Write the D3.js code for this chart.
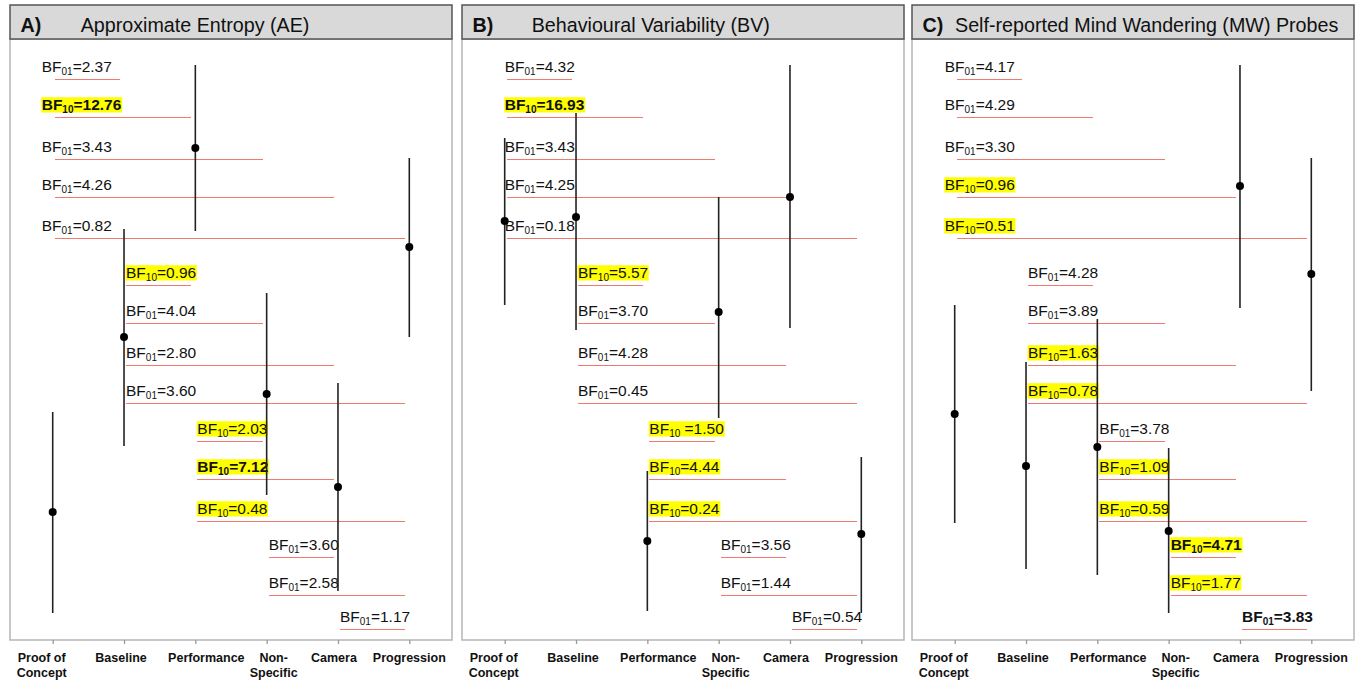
<!DOCTYPE html>
<html>
<head>
<meta charset="utf-8">
<script src="https://cdn.jsdelivr.net/npm/d3@7"></script>
<style>
  body { margin: 0; background: #fff; }
  svg { display: block; font-family: "Liberation Sans", Arial, sans-serif; }
</style>
</head>
<body>
<div id="chart"></div>
<script>
const width = 1365;
const height = 682;

// conditions along the x axis
const categories = ["Proof of Concept", "Baseline", "Performance", "Non-Specific", "Camera", "Progression"];
const categoryLines = [["Proof of", "Concept"], ["Baseline"], ["Performance"], ["Non-", "Specific"], ["Camera"], ["Progression"]];

const panelLetters = ["A)", "B)", "C)"];
const panelTitles = ["Approximate Entropy (AE)", "Behavioural Variability (BV)", "Self-reported Mind Wandering (MW) Probes"];

// estimates (arbitrary hidden y units, no axis shown)
const aeMean = [12.8, 30.3, 49.2, 24.6, 15.3, 39.3];
const aeLow = [2.7, 19.4, 40.9, 14.5, 4.9, 30.3];
const aeHigh = [22.8, 41.1, 57.5, 34.7, 25.7, 48.2];

const bvMean = [41.9, 42.3, 9.9, 32.8, 44.3, 10.6];
const bvLow = [33.5, 31.0, 2.9, 22.2, 31.2, 2.7];
const bvHigh = [50.2, 52.7, 16.9, 44.3, 57.5, 18.3];

const mwMean = [22.6, 17.4, 19.3, 10.9, 45.4, 36.6];
const mwLow = [11.7, 7.1, 6.5, 2.7, 33.2, 24.9];
const mwHigh = [33.5, 27.8, 32.1, 19.2, 57.5, 48.2];

// pairwise comparisons, same order in every panel
const pairFrom = [0, 0, 0, 0, 0, 1, 1, 1, 1, 2, 2, 2, 3, 3, 4];
const pairTo = [1, 2, 3, 4, 5, 2, 3, 4, 5, 3, 4, 5, 4, 5, 5];
const pairLevel = [56.1, 52.3, 48.1, 44.3, 40.2, 35.5, 31.7, 27.5, 23.7, 19.9, 16.1, 11.9, 8.3, 4.5, 1.1];

// Bayes factors: type ("01" or "10"), text after the subscript, bold
const aeType = ["01", "10", "01", "01", "01", "10", "01", "01", "01", "10", "10", "10", "01", "01", "01"];
const aeBF = ["=2.37", "=12.76", "=3.43", "=4.26", "=0.82", "=0.96", "=4.04", "=2.80", "=3.60", "=2.03", "=7.12", "=0.48", "=3.60", "=2.58", "=1.17"];
const aeBold = [0, 1, 0, 0, 0, 0, 0, 0, 0, 0, 1, 0, 0, 0, 0];

const bvType = ["01", "10", "01", "01", "01", "10", "01", "01", "01", "10", "10", "10", "01", "01", "01"];
const bvBF = ["=4.32", "=16.93", "=3.43", "=4.25", "=0.18", "=5.57", "=3.70", "=4.28", "=0.45", " =1.50", "=4.44", "=0.24", "=3.56", "=1.44", "=0.54"];
const bvBold = [0, 1, 0, 0, 0, 0, 0, 0, 0, 0, 0, 0, 0, 0, 0];

const mwType = ["01", "01", "01", "10", "10", "01", "01", "10", "10", "01", "10", "10", "10", "10", "01"];
const mwBF = ["=4.17", "=4.29", "=3.30", "=0.96", "=0.51", "=4.28", "=3.89", "=1.63", "=0.78", "=3.78", "=1.09", "=0.59", "=4.71", "=1.77", "=3.83"];
const mwBold = [0, 0, 0, 0, 0, 0, 0, 0, 0, 0, 0, 0, 1, 0, 1];

// layout
const panelLeft = [10, 462, 912];
const panelWidth = 442;
const headerTop = 5;
const plotTop = 39;
const plotBottom = 640;
const titleOffset = [70.7, 69.7, 43];
const firstLabelShift = [-13, -2, -12];
const tickLabelShift = [-11, -3, 11, 7, -4, 0];

const panels = [
    { mean: aeMean, low: aeLow, high: aeHigh, type: aeType, bf: aeBF, bold: aeBold },
    { mean: bvMean, low: bvLow, high: bvHigh, type: bvType, bf: bvBF, bold: bvBold },
    { mean: mwMean, low: mwLow, high: mwHigh, type: mwType, bf: mwBF, bold: mwBold }
];

const svg = d3.select("#chart")
    .append("svg")
    .attr("width", width)
    .attr("height", height);

const y = d3.scaleLinear()
    .domain([0, 60])
    .range([plotBottom, plotTop + 1]);

panels.forEach((p, k) => drawPanel(p, k));

function drawPanel(p, k) {
    const left = panelLeft[k];
    const g = svg.append("g");

    const x = d3.scalePoint()
        .domain(categories)
        .range([left + 42.7, left + 399.3]);

    // plot frame
    g.append("rect")
        .attr("x", left)
        .attr("y", plotTop)
        .attr("width", panelWidth)
        .attr("height", plotBottom - plotTop)
        .attr("fill", "none")
        .attr("stroke", "#b5b5b5")
        .attr("stroke-width", 1.5);

    // header strip
    g.append("rect")
        .attr("x", left)
        .attr("y", headerTop)
        .attr("width", panelWidth)
        .attr("height", plotTop - headerTop)
        .attr("fill", "#d9d9d9")
        .attr("stroke", "#555")
        .attr("stroke-width", 1.5);

    g.append("text")
        .attr("x", left + 10.5)
        .attr("y", 31.5)
        .style("font-size", "19.7px")
        .style("font-weight", "bold")
        .attr("fill", "#111")
        .text(panelLetters[k]);

    g.append("text")
        .attr("x", left + titleOffset[k])
        .attr("y", 31.5)
        .style("font-size", "19.7px")
        .attr("fill", "#111")
        .text(panelTitles[k]);

    // bottom ticks
    const axis = g.append("g")
        .attr("transform", `translate(0, ${plotBottom})`)
        .call(d3.axisBottom(x).tickSize(4).tickSizeOuter(0).tickFormat(() => ""));
    axis.select(".domain").remove();
    axis.selectAll(".tick line").attr("stroke", "#999").attr("stroke-width", 1.3);

    const labels = g.append("g")
        .selectAll("text")
        .data(categories)
        .join("text")
        .attr("text-anchor", "middle")
        .attr("y", 661.5)
        .style("font-size", "12.5px")
        .style("font-weight", "bold")
        .attr("fill", "#111");
    labels.each(function (d, i) {
        const cx = x(d) + tickLabelShift[i];
        categoryLines[i].forEach((line, j) => {
            d3.select(this).append("tspan")
                .attr("x", cx)
                .attr("dy", j === 0 ? 0 : 15)
                .text(line);
        });
    });

    // comparison brackets
    const rows = d3.range(pairFrom.length);
    g.append("g")
        .selectAll("line")
        .data(rows)
        .join("line")
        .attr("x1", i => x(categories[pairFrom[i]]) + 2)
        .attr("x2", i => x(categories[pairTo[i]]) - 4)
        .attr("y1", i => y(pairLevel[i]))
        .attr("y2", i => y(pairLevel[i]))
        .attr("stroke", "#ee7a70")
        .attr("stroke-width", 1)
        .attr("shape-rendering", "crispEdges");

    const bfGroup = g.append("g");
    rows.forEach(i => {
        const lx = x(categories[pairFrom[i]]) + 2 + (pairFrom[i] === 0 ? firstLabelShift[k] : 0);
        const base = y(pairLevel[i]) - 7;
        const isAlt = p.type[i] === "10";
        const row = bfGroup.append("g");
        const bg = row.append("rect");
        const txt = row.append("text")
            .attr("x", lx)
            .attr("y", base)
            .style("font-size", "15.5px")
            .style("font-weight", p.bold[i] ? "bold" : "normal")
            .style("white-space", "pre")
            .attr("fill", "#111");
        txt.append("tspan").text("BF");
        txt.append("tspan").attr("dy", 3).style("font-size", "10px").text(p.type[i]);
        txt.append("tspan").attr("dy", -3).text(p.bf[i]);
        if (isAlt) {
            const box = txt.node().getBBox();
            bg.attr("x", box.x - 0.5)
                .attr("y", base - 12.8)
                .attr("width", box.width + 1)
                .attr("height", 15.3)
                .attr("fill", "#ffff00");
        } else {
            bg.remove();
        }
    });

    // error bars and points
    const pts = g.append("g");
    pts.selectAll("line")
        .data(categories)
        .join("line")
        .attr("x1", d => x(d))
        .attr("x2", d => x(d))
        .attr("y1", (d, i) => y(p.low[i]))
        .attr("y2", (d, i) => y(p.high[i]))
        .attr("stroke", "#222")
        .attr("stroke-width", 1.6);
    pts.selectAll("circle")
        .data(categories)
        .join("circle")
        .attr("cx", d => x(d))
        .attr("cy", (d, i) => y(p.mean[i]))
        .attr("r", 4)
        .attr("fill", "#000");
}
</script>
</body>
</html>
